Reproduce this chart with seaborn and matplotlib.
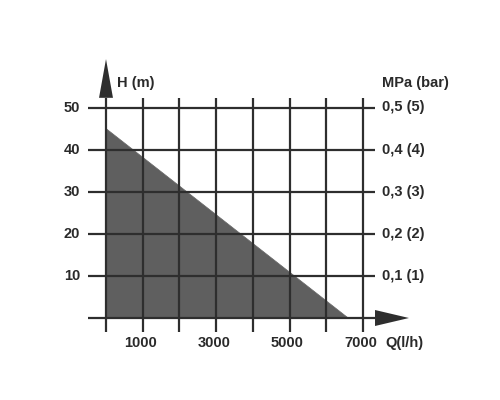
import numpy as np
import pandas as pd
import matplotlib
matplotlib.use("Agg")
import matplotlib.pyplot as plt
import seaborn as sns

# pump curve
flow = [0, 6600]
head = [45, 0]

x_grid = [0, 1000, 2000, 3000, 4000, 5000, 6000, 7000]
y_grid = [0, 10, 20, 30, 40, 50]
x_ticks = [1000, 3000, 5000, 7000]
x_labels = ["1000", "3000", "5000", "7000"]
y_ticks = [10, 20, 30, 40, 50]
y_labels = ["10", "20", "30", "40", "50"]
p_labels = ["0,1 (1)", "0,2 (2)", "0,3 (3)", "0,4 (4)", "0,5 (5)"]

sns.set_style("white")
plt.rcParams['font.family'] = ['Liberation Sans', 'DejaVu Sans']

line_col = "#2e2e2e"
fill_col = "#5f5f5f"
txt_col = "#2a2a2a"

fig = plt.figure(figsize=(5, 4), dpi=100)
ax = fig.add_axes([0, 0, 1, 1])
# pixel mapping: x=0 at 106px, 36.7px per 1000; y=0 at 318px, 4.21px per unit
ax.set_xlim(-106 / 0.0367, (500 - 106) / 0.0367)
ax.set_ylim((318 - 400) / 4.21, 318 / 4.21)
ax.axis("off")

df = pd.DataFrame({"flow": flow, "head": head})
ax.fill_between(df["flow"], df["head"], 0, color=fill_col, lw=0, zorder=1)
sns.lineplot(data=df, x="flow", y="head", color=fill_col, lw=0.5, ax=ax, zorder=1)

x_left, x_right = -490, 7330
y_bot, y_top = -3.3, 52.3
ax.vlines(x_grid, y_bot, y_top, color=line_col, lw=1.6, zorder=2)
ax.hlines(y_grid, x_left, x_right, color=line_col, lw=1.6, zorder=2)

# arrow heads
ytip = 61.5
ax.fill([-190, 190, 0], [y_top, y_top, ytip], color=line_col, lw=0, zorder=3)
xtip = 8256
ax.fill([x_right, x_right, xtip], [1.9, -1.9, 0], color=line_col, lw=0, zorder=3)

fs = 10.5
kw = dict(fontsize=fs, color=txt_col, fontweight="bold")
for v, lab in zip(y_ticks, y_labels):
    ax.text(-700, v, lab, ha="right", va="center", **kw)
for v, lab in zip(y_ticks, p_labels):
    ax.text(7520, v, lab, ha="left", va="center", **kw)
for v, lab in zip(x_ticks, x_labels):
    ax.text(v - 60, -5.9, lab, ha="center", va="center", **kw)

ax.text(7620, -5.9, "Q(l/h)", ha="left", va="center", **kw)
ax.text(7520, 55.8, "MPa (bar)", ha="left", va="center", **kw)
ax.text(300, 55.8, "H (m)", ha="left", va="center", **kw)

fig.savefig("out.png", dpi=100)
